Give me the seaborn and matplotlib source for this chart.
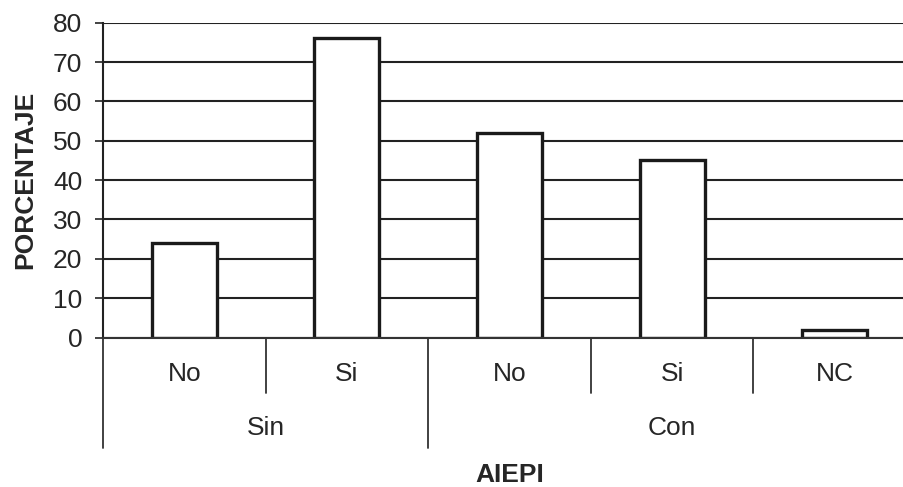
import pandas as pd
import matplotlib
matplotlib.use("Agg")
import matplotlib.pyplot as plt
import matplotlib.transforms as mtransforms
import seaborn as sns

# Data
groups = ["Sin", "Sin", "Con", "Con", "Con"]
answers = ["No", "Si", "No", "Si", "NC"]
percent = [24, 76, 52, 45, 2]
y_ticks = [0, 10, 20, 30, 40, 50, 60, 70, 80]

df = pd.DataFrame({"grupo": groups, "respuesta": answers, "porcentaje": percent})
df["pos"] = [f"{g}-{r}" for g, r in zip(groups, answers)]

sns.set_style("white")
plt.rcParams["font.family"] = ["Liberation Sans", "DejaVu Sans"]

W, H = 904, 487
fig = plt.figure(figsize=(W / 100, H / 100), dpi=100)
left, right, bottom, top = 103 / W, 916 / W, (H - 337.5) / H, (H - 22.7) / H
ax = fig.add_axes([left, bottom, right - left, top - bottom])

sns.barplot(data=df, x="pos", y="porcentaje", order=list(df["pos"]),
            color="white", edgecolor="#1a1a1a", linewidth=2.4, width=0.4,
            ax=ax, zorder=3)

ax.set_ylim(0, 80)
ax.set_xlim(-0.5, 4.5)
ax.set_yticks(y_ticks)
ax.yaxis.grid(True, color="#222222", linewidth=1.5, zorder=0)
ax.set_axisbelow(True)
ax.tick_params(axis="y", which="both", left=True, length=6, width=1.2,
               color="#222222", labelsize=19, pad=9)
ax.tick_params(axis="x", bottom=False, labelbottom=False)
for s in ["top", "right", "bottom"]:
    ax.spines[s].set_visible(False)
ax.spines["left"].set_color("#222222")
ax.spines["left"].set_linewidth(1.5)
ax.set_xlabel("")
ax.set_ylabel("PORCENTAJE", fontsize=19, fontweight="bold", labelpad=11)

# hierarchical x axis
ax_h = (top - bottom) * H
trans = mtransforms.blended_transform_factory(ax.transData, ax.transAxes)
for i, r in enumerate(answers):
    ax.text(i, -36.5 / ax_h, r, transform=trans, ha="center", va="center",
            fontsize=19)
for g in ["Sin", "Con"]:
    idx = [i for i, gg in enumerate(groups) if gg == g]
    ax.text(sum(idx) / len(idx), -90.5 / ax_h, g, transform=trans,
            ha="center", va="center", fontsize=19)
for xd in [0.5, 2.5, 3.5]:
    ax.plot([xd, xd], [0, -55.5 / ax_h], transform=trans, color="#333333",
            linewidth=1.3, clip_on=False)
for xd in [-0.5, 1.5, 4.5]:
    ax.plot([xd, xd], [0, -110.5 / ax_h], transform=trans, color="#333333",
            linewidth=1.3, clip_on=False)
ax.plot([-0.5, 4.5], [0, 0], transform=trans, color="#333333",
        linewidth=1.5, clip_on=False, zorder=4)

ax.text(0.5, -137.5 / ax_h, "AIEPI", transform=ax.transAxes, ha="center",
        va="center", fontsize=19, fontweight="bold")

fig.savefig("out.png", dpi=100)
